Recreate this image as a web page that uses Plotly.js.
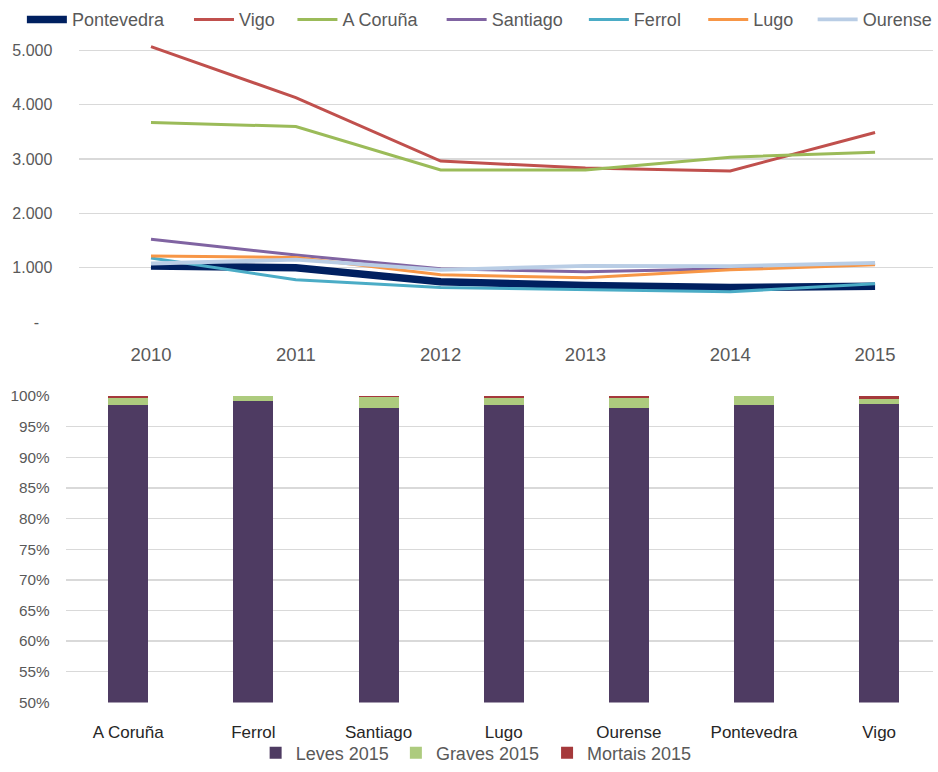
<!DOCTYPE html>
<html>
<head>
<meta charset="utf-8">
<script src="https://cdn.plot.ly/plotly-3.0.1.min.js"></script>
<style>
html,body{margin:0;padding:0;background:#fff;overflow:hidden;width:938px;height:772px;}
#chart{width:938px;height:772px;overflow:hidden;}
</style>
</head>
<body>
<div id="chart"></div>
<script>
// ---- Top chart data (accidents per city, 2010-2015) ----
const years = ["2010", "2011", "2012", "2013", "2014", "2015"];
const pontevedra = [1036, 1000, 745, 673, 636, 660];
const vigo       = [5070, 4130, 2965, 2836, 2782, 3491];
const aCoruna    = [3673, 3600, 2800, 2800, 3036, 3127];
const santiago   = [1527, 1236, 982, 927, 982, 1075];
const ferrol     = [1182, 782, 636, 600, 560, 709];
const lugo       = [1218, 1190, 873, 818, 964, 1055];
const ourense    = [1080, 1150, 964, 1036, 1030, 1091];
const yTickVals  = [0, 1000, 2000, 3000, 4000, 5000];
const yTickText  = ["-\u00a0\u00a0\u00a0", "1.000", "2.000", "3.000", "4.000", "5.000"];

// ---- Bottom chart data (share of victims by severity, 2015) ----
const districts = ["A Coruña", "Ferrol", "Santiago", "Lugo", "Ourense", "Pontevedra", "Vigo"];
const leves2015   = [98.55, 99.2, 98.1, 98.55, 98.1, 98.55, 98.75];
const graves2015  = [1.1, 0.8, 1.7, 1.1, 1.65, 1.45, 0.8];
const mortais2015 = [0.35, 0.0, 0.2, 0.35, 0.25, 0.0, 0.45];
const pctTickVals = [50, 55, 60, 65, 70, 75, 80, 85, 90, 95, 100];
const pctTickText = ["50%", "55%", "60%", "65%", "70%", "75%", "80%", "85%", "90%", "95%", "100%"];

const FONT = "Liberation Sans, Arial, sans-serif";
const GREY = "#595959";
const GRID = "#D9D9D9";
const W = 938, H = 772;

const lineSeries = [
  {name: "Pontevedra", y: pontevedra, color: "#002060", width: 7.5},
  {name: "Vigo",       y: vigo,       color: "#C0504D", width: 3},
  {name: "A Coruña",   y: aCoruna,    color: "#9BBB59", width: 3},
  {name: "Santiago",   y: santiago,   color: "#8064A2", width: 3},
  {name: "Ferrol",     y: ferrol,     color: "#4BACC6", width: 3},
  {name: "Lugo",       y: lugo,       color: "#F79646", width: 3},
  {name: "Ourense",    y: ourense,    color: "#B9CDE5", width: 3.8}
];
// legend item left edges (px) for the top legend
const topLegendX = [22, 190, 294, 444, 587, 707, 817];

const barSeries = [
  {name: "Leves 2015",   y: leves2015,   color: "#4E3B62"},
  {name: "Graves 2015",  y: graves2015,  color: "#ADCB7E"},
  {name: "Mortais 2015", y: mortais2015, color: "#A5393B"}
];
const botLegendX = [257, 398, 550];

const traces = [];
const layout = {
  width: W, height: H,
  margin: {l: 0, r: 0, t: 0, b: 0},
  paper_bgcolor: "#fff", plot_bgcolor: "#fff",
  font: {family: FONT, color: GREY},
  barmode: "stack",
  showlegend: true,
  xaxis: {
    domain: [79 / W, 1], range: [-0.5, 5.4], type: "category",
    showgrid: false, zeroline: false, showline: false,
    ticks: "outside", ticklen: 16, tickcolor: "rgba(0,0,0,0)",
    tickfont: {size: 18.5, color: GREY}, anchor: "y"
  },
  yaxis: {
    domain: [1 - 326 / H, 1 - 44.4 / H], range: [0, 5120],
    tickvals: yTickVals, ticktext: yTickText,
    showgrid: true, gridcolor: GRID, gridwidth: 1.3, zeroline: false, showline: false,
    ticks: "outside", ticklen: 22, tickcolor: "rgba(0,0,0,0)",
    tickfont: {size: 16, color: GREY}, anchor: "x"
  },
  xaxis2: {
    domain: [66 / W, 1], range: [-0.5, 6.43], type: "category",
    showgrid: false, zeroline: false, showline: false,
    ticks: "outside", ticklen: 14, tickcolor: "rgba(0,0,0,0)",
    tickfont: {size: 17, color: "#262626"}, anchor: "y2"
  },
  yaxis2: {
    domain: [1 - 710.7 / H, 1 - 400.7 / H], range: [50, 100],
    tickvals: pctTickVals, ticktext: pctTickText,
    showgrid: true, gridcolor: GRID, gridwidth: 1.3, zeroline: false, showline: false,
    ticks: "outside", ticklen: 12, tickcolor: "rgba(0,0,0,0)",
    tickfont: {size: 15.3, color: GREY}, anchor: "x2"
  }
};

lineSeries.forEach((s, i) => {
  const lg = i === 0 ? "legend" : "legend" + (i + 1);
  traces.push({
    type: "scatter", mode: "lines", x: years, y: s.y, name: s.name,
    line: {color: s.color, width: s.width, shape: "linear"},
    xaxis: "x", yaxis: "y", legend: lg
  });
  layout[lg] = {
    orientation: "h", x: topLegendX[i] / W, xanchor: "left",
    y: 1 - 20 / H, yanchor: "middle",
    font: {size: 18, color: GREY}, itemwidth: 40,
    bgcolor: "rgba(0,0,0,0)"
  };
});

barSeries.forEach((s, i) => {
  const lg = "legend" + (8 + i);
  traces.push({
    type: "bar", x: districts, y: s.y, name: s.name,
    marker: {color: s.color, line: {width: 0}},
    width: 0.32, xaxis: "x2", yaxis: "y2", legend: lg
  });
  layout[lg] = {
    orientation: "h", x: botLegendX[i] / W, xanchor: "left",
    y: 1 - 762 / H, yanchor: "middle",
    font: {size: 18, color: GREY},
    bgcolor: "rgba(0,0,0,0)"
  };
});

Plotly.newPlot("chart", traces, layout, {displayModeBar: false, staticPlot: true});
</script>
</body>
</html>
